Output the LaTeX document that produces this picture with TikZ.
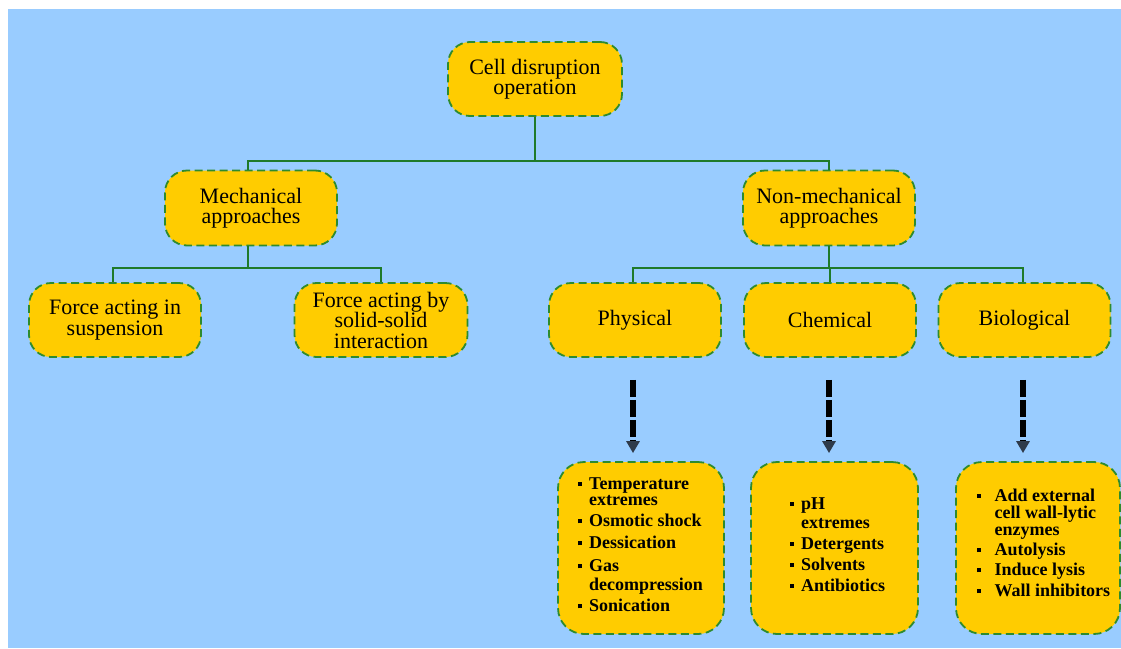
\documentclass[tikz,border=0pt]{standalone}
\usepackage{fontspec}
\setmainfont{Liberation Serif}
\usetikzlibrary{arrows.meta}
\definecolor{bgblue}{HTML}{99CCFF}
\definecolor{gold}{HTML}{FFCC00}
\definecolor{bordergreen}{HTML}{2E8B2E}
\definecolor{linkgreen}{HTML}{1F7A2A}
\definecolor{tipc}{HTML}{2E3A4A}
\newcommand{\bul}[1][11pt]{\makebox[#1][l]{\rule[3.5pt]{4pt}{4pt}}}
\newcommand{\ind}[1][11pt]{\hspace*{#1}}
\begin{document}
\begin{tikzpicture}[x=1pt,y=-1pt,
  box/.style={draw=bordergreen, fill=gold, line width=1.8pt, dash pattern=on 8pt off 4.5pt,
    rounded corners=22pt, align=center, inner sep=2pt,
    font=\fontsize{22}{20.5}\selectfont},
  topbox/.style={box, minimum width=172pt, minimum height=74pt},
  listbox/.style={draw=bordergreen, fill=gold, line width=1.8pt, dash pattern=on 8pt off 4.5pt,
    rounded corners=26pt, minimum height=172pt},
  listtext/.style={anchor=north west, inner sep=0pt, align=left,
    font=\fontsize{18}{18}\selectfont\bfseries},
  link/.style={draw=linkgreen, line width=2pt},
  bigarrow/.style={draw=black, line width=6pt, dash pattern=on 17pt off 3pt,
    -{Triangle[length=12pt,width=13pt,color=tipc]}, shorten <=22pt, shorten >=8pt}
]
\useasboundingbox (0,0) rectangle (1121,648);
\fill[white] (0,0) rectangle (1121,648);
\fill[bgblue] (8,9) rectangle (1121,648);

% top level
\node[topbox, minimum width=174pt] (cell) at (535,79) {Cell disruption\\operation};
\node[topbox, minimum height=75pt] (mech) at (251,208) {Mechanical\\approaches};
\node[topbox, minimum height=75pt] (nonmech) at (829,208) {Non-mechanical\\approaches};
\node[topbox] (fsusp) at (115,320) {Force acting in\\suspension};
\node[topbox, minimum width=173pt] (fsolid) at (381,320) {Force acting by\\solid-solid\\interaction};
\node[topbox] (phys) at (635,320) {Physical};
\node[topbox] (chem) at (830,320) {Chemical};
\node[topbox] (bio) at (1024.5,320) {Biological};

% list boxes
\node[listbox, minimum width=166pt] (physbox) at (641,548) {};
\node[listbox, minimum width=167pt] (chembox) at (834.5,548) {};
\node[listbox, minimum width=164pt] (biobox) at (1038,548) {};

% list texts
\node[listtext] (physlist) at (578,477.5) {%
\bul Temperature\\[-1.5pt]
\ind extremes\\[3pt]
\bul Osmotic shock\\[4pt]
\bul Dessication\\[5pt]
\bul Gas\\[1pt]
\ind decompression\\[3pt]
\bul Sonication};
\node[listtext] (chemlist) at (790,497.5) {%
\bul pH\\[1pt]
\ind extremes\\[3pt]
\bul Detergents\\[3pt]
\bul Solvents\\[3pt]
\bul Antibiotics};
\node[listtext] (biolist) at (977,488.5) {%
\bul[13pt] Add external\\[-1pt]
\ind[13pt] cell wall-lytic\\[-0.5pt]
\ind[13pt] enzymes\\[2pt]
\bul[13pt] Autolysis\\[2pt]
\bul[13pt] Induce lysis\\[3pt]
\bul[13pt] Wall inhibitors};

% connectors
\draw[link] (cell.south) -- ++(0,44) -| ([xshift=-3pt]mech.north);
\draw[link] (cell.south) -- ++(0,44) -| (nonmech.north);
\draw[link] ([xshift=-3pt]mech.south) -- ++(0,22) -| ([xshift=-2pt]fsusp.north);
\draw[link] ([xshift=-3pt]mech.south) -- ++(0,22) -| (fsolid.north);
\draw[link] (nonmech.south) -- ++(0,22) -| ([xshift=-2pt]phys.north);
\draw[link] (nonmech.south) -- ++(0,22) -| (chem.north);
\draw[link] (nonmech.south) -- ++(0,22) -| ([xshift=-1.5pt]bio.north);

% dashed arrows
\draw[bigarrow] ([xshift=-2pt]phys.south) -- ([xshift=-2pt]phys.south |- physbox.north);
\draw[bigarrow] ([xshift=-1pt]chem.south) -- ([xshift=-1pt]chem.south |- chembox.north);
\draw[bigarrow] ([xshift=-1.5pt]bio.south) -- ([xshift=-1.5pt]bio.south |- biobox.north);
\end{tikzpicture}
\end{document}
